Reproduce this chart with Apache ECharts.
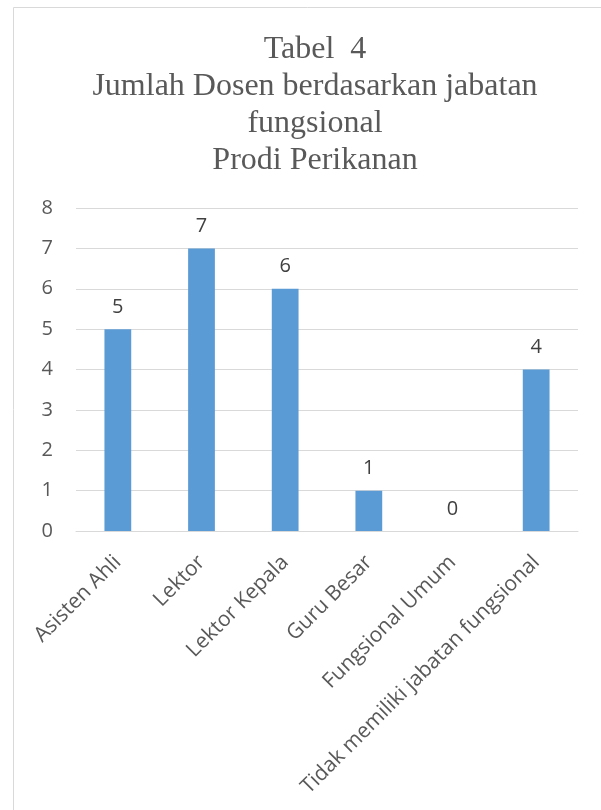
<!DOCTYPE html>
<html>
<head>
<meta charset="utf-8">
<script src="https://cdn.jsdelivr.net/npm/echarts@6/dist/echarts.min.js"></script>
<style>
  html, body { margin: 0; padding: 0; background: #fff; }
  #chart { width: 601px; height: 810px; }
</style>
</head>
<body>
<div id="chart"></div>
<script>
const categories = ['Asisten Ahli', 'Lektor', 'Lektor Kepala', 'Guru Besar', 'Fungsional Umum', 'Tidak memiliki jabatan fungsional'];
const counts = [5, 7, 6, 1, 0, 4];
const yTicks = [0, 8, 1]; // min, max, interval

const chart = echarts.init(document.getElementById('chart'));
const labelFont = '"Open Sans", "Noto Sans", sans-serif';

chart.setOption({
  animation: false,
  graphic: [{
    type: 'rect',
    shape: { x: 13.5, y: 7.5, width: 700, height: 900 },
    style: { fill: 'none', stroke: '#d9d9d9', lineWidth: 1 },
    silent: true
  }],
  title: {
    text: 'Tabel  4\nJumlah Dosen berdasarkan jabatan\nfungsional\nProdi Perikanan',
    left: 310,
    textAlign: 'center',
    top: 26,
    textStyle: {
      fontFamily: '"Liberation Serif", "Times New Roman", serif',
      fontSize: 32,
      fontWeight: 'normal',
      color: '#595959',
      lineHeight: 37
    }
  },
  grid: { left: 76, right: 23, top: 208, bottom: 279 },
  xAxis: {
    type: 'category',
    data: categories,
    axisLine: { lineStyle: { color: '#d9d9d9', width: 1 } },
    axisTick: { show: false },
    axisLabel: {
      rotate: 45,
      interval: 0,
      margin: 28,
      color: '#595959',
      fontSize: 21,
      fontFamily: labelFont
    }
  },
  yAxis: {
    type: 'value',
    min: yTicks[0],
    max: yTicks[1],
    interval: yTicks[2],
    axisLine: { show: false },
    axisTick: { show: false },
    splitLine: { lineStyle: { color: '#d9d9d9', width: 1 } },
    axisLabel: {
      color: '#595959',
      fontSize: 20,
      margin: 23,
      fontFamily: labelFont
    }
  },
  series: [{
    type: 'bar',
    data: counts,
    barWidth: '32%',
    itemStyle: { color: '#5b9bd5' },
    label: {
      show: true,
      position: 'top',
      distance: 12,
      color: '#404040',
      fontSize: 20,
      fontFamily: labelFont
    }
  }]
});
</script>
</body>
</html>
